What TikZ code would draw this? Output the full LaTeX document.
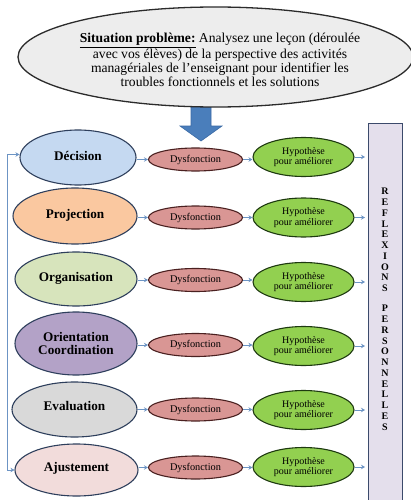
\documentclass[tikz,border=0pt]{standalone}
\usepackage{fontspec}
\setmainfont{Liberation Serif}
\usetikzlibrary{shapes.geometric,arrows.meta}
\definecolor{navy}{HTML}{2E3F5C}
\definecolor{topf}{HTML}{EDEDED}
\definecolor{topb}{HTML}{2B2B2B}
\definecolor{bluef}{HTML}{C5D9F1}
\definecolor{peach}{HTML}{FAC8A0}
\definecolor{lgreen}{HTML}{D7E4BC}
\definecolor{purp}{HTML}{B3A2C7}
\definecolor{lgray}{HTML}{D9D9D9}
\definecolor{lpink}{HTML}{F2DCDB}
\definecolor{dysf}{HTML}{D99694}
\definecolor{dysb}{HTML}{4A2020}
\definecolor{hypf}{HTML}{92D050}
\definecolor{hypb}{HTML}{1E3A10}
\definecolor{arrc}{HTML}{6C94C4}
\definecolor{bigarrf}{HTML}{4A7EBB}
\definecolor{bigarrb}{HTML}{3A6AA5}
\definecolor{reff}{HTML}{E4DFEC}
\definecolor{refb}{HTML}{3B4A6B}
\begin{document}
\begin{tikzpicture}[x=1pt,y=-1pt,
  ell/.style={ellipse,draw,inner sep=0pt,line width=1.1pt},
  big/.style={ell,draw=navy,font=\fontsize{13.2}{13}\selectfont\bfseries,align=center},
  dys/.style={ell,draw=dysb,fill=dysf,minimum width=94pt,minimum height=23pt,font=\fontsize{10.3}{11}\selectfont},
  hyp/.style={ell,draw=hypb,fill=hypf,minimum width=101pt,minimum height=39pt,font=\fontsize{10}{10.3}\selectfont,align=center},
  arr/.style={draw=arrc,line width=1pt,-{Stealth[length=4pt,width=4.5pt]}},
  fbarr/.style={draw=arrc,line width=1pt,{Stealth[length=4pt,width=4.5pt]}-{Stealth[length=4pt,width=4.5pt]}},
]
\useasboundingbox (0,0) rectangle (411,500);

% big blue arrow
\draw[fill=bigarrf,draw=bigarrb,line width=0.6pt]
  (191,100) -- (211,100) -- (211,126) -- (222,126) -- (201,141) -- (180,126) -- (191,126) -- cycle;

% top ellipse
\node[ell,fill=topf,draw=topb,line width=1.3pt,minimum width=395pt,minimum height=100pt] (top) at (215.5,57) {};
\node[font=\fontsize{13.6}{14}\selectfont,align=center,inner sep=0pt] (toptxt) at (220,60)
  {\underline{\textbf{Situation problème:}} Analysez une leçon (déroulée\\
   avec vos élèves) de la perspective des activités\\
   managériales de l’enseignant pour identifier les\\
   troubles fonctionnels et les solutions};

% right box
\node[draw=refb,fill=reff,line width=1.3pt,minimum width=34pt,minimum height=395pt,anchor=north west,inner sep=0pt] (ref) at (368,123) {};
\node[font=\fontsize{10}{10.75}\selectfont\bfseries,align=center,inner sep=0pt,anchor=north] (reftxt) at (385,188)
  {R\\E\\F\\L\\E\\X\\I\\O\\N\\S\\[9.5pt]P\\E\\R\\S\\O\\N\\N\\E\\L\\L\\E\\S};

% left ellipses
\node[big,fill=bluef,minimum width=116pt,minimum height=55pt] (dec) at (78,157.5) {\raisebox{3.5pt}{Décision}};
\node[big,fill=peach,minimum width=124pt,minimum height=56pt] (pro) at (75,216) {\raisebox{4pt}{Projection}};
\node[big,fill=lgreen,minimum width=122pt,minimum height=54pt] (org) at (76,279) {\raisebox{5pt}{Organisation}};
\node[big,fill=purp,minimum width=122pt,minimum height=63pt] (ori) at (76,343.5) {Orientation\\Coordination};
\node[big,fill=lgray,minimum width=125pt,minimum height=55pt] (eva) at (74.5,409.5) {\raisebox{6.5pt}{Evaluation}};
\node[big,fill=lpink,minimum width=123pt,minimum height=52pt] (aju) at (76.5,470) {\raisebox{7pt}{Ajustement}};

% dysfonction
\node[dys] (d1) at (195.5,159.5) {Dysfonction};
\node[dys] (d2) at (195.5,217.5) {Dysfonction};
\node[dys] (d3) at (195.5,280) {Dysfonction};
\node[dys] (d4) at (195.5,345) {Dysfonction};
\node[dys] (d5) at (195.5,409.5) {Dysfonction};
\node[dys] (d6) at (195.5,467.5) {Dysfonction};

% hypothese
\node[hyp] (h1) at (303.5,157) {Hypothèse\\pour améliorer};
\node[hyp] (h2) at (303.5,217.5) {Hypothèse\\pour améliorer};
\node[hyp] (h3) at (303.5,282) {Hypothèse\\pour améliorer};
\node[hyp] (h4) at (303.5,346) {Hypothèse\\pour améliorer};
\node[hyp] (h5) at (303.5,410) {Hypothèse\\pour améliorer};
\node[hyp] (h6) at (303.5,467) {Hypothèse\\pour améliorer};

% connectors
\foreach \L/\i in {dec/1,pro/2,org/3,ori/4,eva/5,aju/6}{
  \draw[arr] (\L.east |- d\i.west) -- (d\i.west);
  \draw[arr] (d\i.east) -- (d\i.east -| h\i.west);
  \draw[arr,shorten >=3pt] (h\i.east) -- (h\i.east -| ref.west);
}

% feedback line
\draw[fbarr] ([yshift=3pt]dec.west) -- ++(-12,0) |- (aju.west);
\end{tikzpicture}
\end{document}
